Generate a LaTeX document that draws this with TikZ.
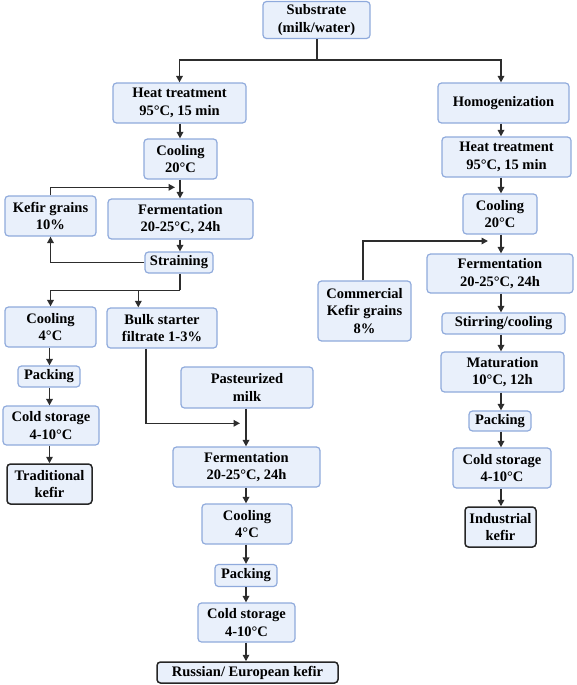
\documentclass[tikz,border=0pt]{standalone}
\usepackage{fontspec}
\setmainfont{Liberation Serif}
\usetikzlibrary{arrows.meta,calc}
\definecolor{boxfill}{RGB}{233,240,251}
\definecolor{boxborder}{RGB}{143,170,220}
\definecolor{arrowc}{RGB}{45,45,45}
\newcommand{\kfont}{\fontsize{14.5pt}{17.5pt}\selectfont\bfseries}
\tikzset{
  box/.style={draw=boxborder, fill=boxfill, rounded corners=3.5pt, line width=1.2pt,
              align=center, inner sep=0pt, font=\kfont},
  endbox/.style={box, draw=black!85, line width=1.5pt},
  arr/.style={draw=arrowc, line width=1.6pt, -{Triangle[length=6.5pt,width=6.5pt]}},
  ln/.style={draw=arrowc, line width=1.6pt},
}
\begin{document}
\begin{tikzpicture}[x=1pt,y=-1pt]
\useasboundingbox (0,0) rectangle (576,685);
% column coordinates
\coordinate (cL) at (180,0);
\coordinate (cA) at (49.5,0);
\coordinate (cM) at (246,0);
\coordinate (cR) at (501,0);
% nodes
\node[box, minimum width=107pt, minimum height=37pt] (sub) at (316.5,20) {Substrate\\(milk/water)};
\node[box, minimum width=133pt, minimum height=40pt] (heat1) at (179.5,103) {Heat treatment\\95°C, 15 min};
\node[box, minimum width=131pt, minimum height=40pt] (homog) at (503.5,103) {Homogenization};
\node[box, minimum width=73pt, minimum height=40pt] (cool1) at (180.5,159) {Cooling\\20°C};
\node[box, minimum width=91pt, minimum height=40pt] (kefir) at (50.5,216) {Kefir grains\\10\%};
\node[box, minimum width=145pt, minimum height=40pt] (ferm1) at (180.5,219) {Fermentation\\20-25°C, 24h};
\node[box, minimum width=68pt, minimum height=21pt] (strain) at (179,262.5) {Straining};
\node[box, minimum width=91pt, minimum height=40pt] (cool4a) at (50.5,327) {Cooling\\4°C};
\node[box, minimum width=110pt, minimum height=40pt] (bulk) at (162,328) {Bulk starter\\filtrate 1-3\%};
\node[box, minimum width=62pt, minimum height=21pt] (pack1) at (49,376.5) {Packing};
\node[box, minimum width=96pt, minimum height=39pt] (cold1) at (51,425.5) {Cold storage\\4-10°C};
\node[endbox, minimum width=85pt, minimum height=40pt] (trad) at (49.5,484) {Traditional\\kefir};
\node[box, minimum width=132pt, minimum height=41pt] (past) at (247,387.5) {Pasteurized\\milk};
\node[box, minimum width=147pt, minimum height=40pt] (ferm2) at (246.5,467) {Fermentation\\20-25°C, 24h};
\node[box, minimum width=90pt, minimum height=40pt] (cool4b) at (247,524) {Cooling\\4°C};
\node[box, minimum width=62pt, minimum height=22pt] (pack2) at (246,575.5) {Packing};
\node[box, minimum width=97pt, minimum height=39pt] (cold2) at (246.5,622.5) {Cold storage\\4-10°C};
\node[endbox, minimum width=181pt, minimum height=21pt] (russ) at (247.5,672.5) {Russian/ European kefir};
\node[box, minimum width=129pt, minimum height=40pt] (heat2) at (506.5,157) {Heat treatment\\95°C, 15 min};
\node[box, minimum width=74pt, minimum height=40pt] (cool2) at (500,214) {Cooling\\20°C};
\node[box, minimum width=146pt, minimum height=39pt] (ferm3) at (500,273.5) {Fermentation\\20-25°C, 24h};
\node[box, minimum width=93pt, minimum height=60pt] (comm) at (364.5,311) {Commercial\\Kefir grains\\8\%};
\node[box, minimum width=123pt, minimum height=21pt] (stir) at (503.5,323.5) {Stirring/cooling};
\node[box, minimum width=123pt, minimum height=40pt] (mat) at (502.5,372) {Maturation\\10°C, 12h};
\node[box, minimum width=62pt, minimum height=20pt] (pack3) at (500,421) {Packing};
\node[box, minimum width=98pt, minimum height=40pt] (cold3) at (502,468) {Cold storage\\4-10°C};
\node[endbox, minimum width=71pt, minimum height=40pt] (ind) at (500.5,527) {Industrial\\kefir};
% helper coordinates
\coordinate (jt) at (316.7,60);
\coordinate (kfend) at (175,187.3);
\coordinate (sp) at (180,290.3);
\coordinate (bx) at (138.3,0);
\coordinate (bx2) at (145.7,0);
\coordinate (bend) at (240,423.3);
\coordinate (cx) at (363,0);
\coordinate (cend) at (488,241);
% connectors: top split
\draw[ln] (sub.south -| jt) -- (jt);
\draw[arr] (jt) -| (heat1.north);
\draw[arr] (jt) -| (homog.north -| cR);
% left branch
\draw[arr] (heat1.south -| cL) -- (cool1.north -| cL);
\draw[arr] (cool1.south -| cL) -- (ferm1.north -| cL);
\draw[arr] (kefir.north) |- (kfend);
\draw[arr] (ferm1.south -| cL) -- (strain.north -| cL);
\draw[arr] (strain.west) -| (kefir.south);
\draw[ln] (strain.south -| cL) -- (sp);
\draw[arr] (sp) -| (cool4a.north);
\draw[arr] (sp -| bx) -- (bulk.north -| bx);
\draw[arr] (cool4a.south -| cA) -- (pack1.north -| cA);
\draw[arr] (pack1.south -| cA) -- (cold1.north -| cA);
\draw[arr] (cold1.south -| cA) -- (trad.north -| cA);
% middle branch
\draw[arr] (bulk.south -| bx2) |- (bend);
\draw[arr] (past.south -| cM) -- (ferm2.north -| cM);
\draw[arr] (ferm2.south -| cM) -- (cool4b.north -| cM);
\draw[arr] (cool4b.south -| cM) -- (pack2.north -| cM);
\draw[arr] (pack2.south -| cM) -- (cold2.north -| cM);
\draw[arr] (cold2.south -| cM) -- (russ.north -| cM);
% right branch
\draw[arr] (homog.south -| cR) -- (heat2.north -| cR);
\draw[arr] (heat2.south -| cR) -- (cool2.north -| cR);
\draw[arr] (cool2.south -| cR) -- (ferm3.north -| cR);
\draw[arr] (comm.north -| cx) |- (cend);
\draw[arr] (ferm3.south -| cR) -- (stir.north -| cR);
\draw[arr] (stir.south -| cR) -- (mat.north -| cR);
\draw[arr] (mat.south -| cR) -- (pack3.north -| cR);
\draw[arr] (pack3.south -| cR) -- (cold3.north -| cR);
\draw[arr] (cold3.south -| cR) -- (ind.north -| cR);
\end{tikzpicture}
\end{document}
